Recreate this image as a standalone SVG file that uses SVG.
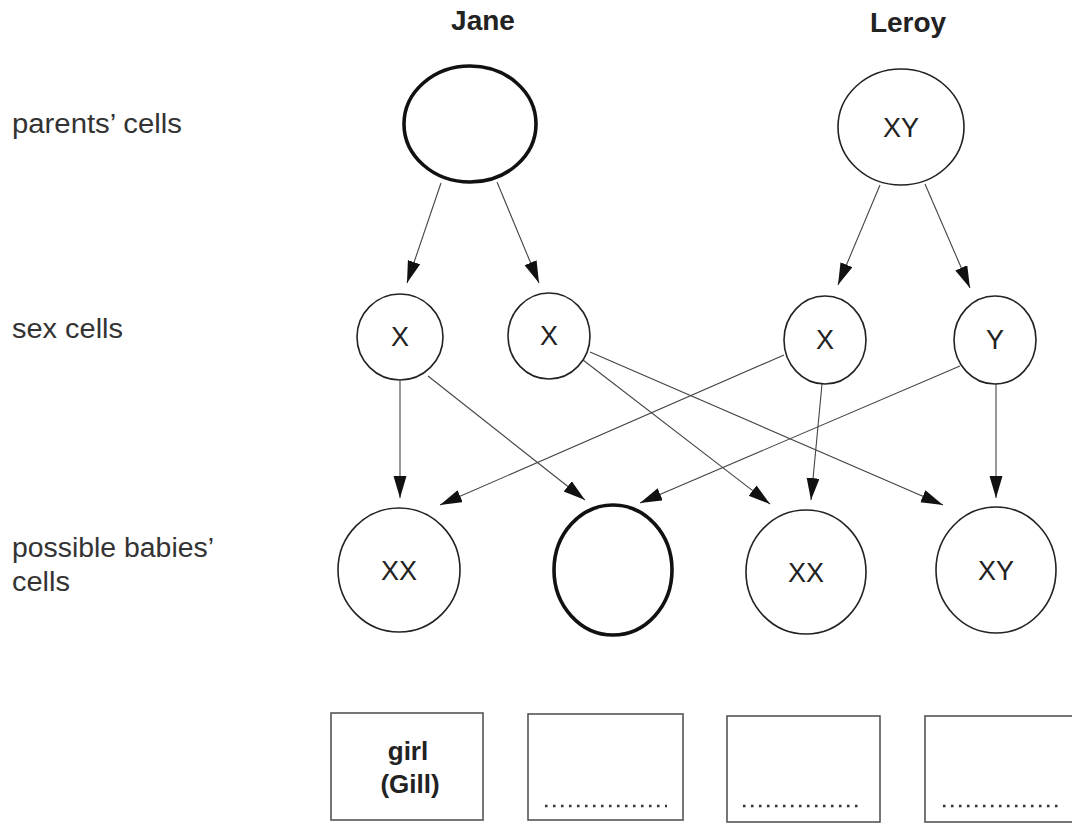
<svg xmlns="http://www.w3.org/2000/svg" width="1072" height="825" viewBox="0 0 1072 825">
<style>
.lbl{font-family:"Liberation Sans",Arial,sans-serif;font-size:27px;fill:#333}
.cl{font-family:"Liberation Sans",Arial,sans-serif;font-size:27px;fill:#222;text-anchor:middle}
.hd{font-family:"Liberation Sans",Arial,sans-serif;font-size:28px;font-weight:bold;fill:#222;text-anchor:middle}
.bt{font-family:"Liberation Sans",Arial,sans-serif;font-size:26px;font-weight:bold;fill:#222;text-anchor:middle}
.c{fill:#fff;stroke:#222;stroke-width:1.6}
.ct{fill:#fff;stroke:#111;stroke-width:3.6}
.bx{fill:#fff;stroke:#555;stroke-width:1.6}
.dot{stroke:#333;stroke-width:2.5;stroke-dasharray:2.5 5.5}
.e{stroke:#444;stroke-width:1.1;fill:none;marker-end:url(#ah)}
</style>
<defs>
<marker id="ah" markerUnits="userSpaceOnUse" markerWidth="24" markerHeight="14" refX="22" refY="6.5" orient="auto">
<path d="M0,0 L22,6.5 L0,13 z" fill="#111"/>
</marker>
</defs>
<rect width="1072" height="825" fill="#fff"/>
<g id="labels">
<text class="lbl" x="12" y="133" textLength="170" lengthAdjust="spacingAndGlyphs">parents’ cells</text>
<text class="lbl" x="12" y="338" textLength="111" lengthAdjust="spacingAndGlyphs">sex cells</text>
<text class="lbl" x="12" y="557" textLength="202" lengthAdjust="spacingAndGlyphs">possible babies’</text>
<text class="lbl" x="12" y="591" textLength="58" lengthAdjust="spacingAndGlyphs">cells</text>
<text class="hd" x="483" y="30">Jane</text>
<text class="hd" x="908" y="32">Leroy</text>
</g>
<g id="connectors">
<line class="e" x1="441" y1="183" x2="407" y2="283"/>
<line class="e" x1="497" y1="182" x2="539" y2="283"/>
<line class="e" x1="880" y1="185" x2="838" y2="285"/>
<line class="e" x1="925" y1="184" x2="970" y2="288"/>
<line class="e" x1="400" y1="381" x2="400" y2="498"/>
<line class="e" x1="428" y1="376" x2="585" y2="500"/>
<line class="e" x1="583" y1="360" x2="770" y2="504"/>
<line class="e" x1="590" y1="352" x2="943" y2="505"/>
<line class="e" x1="784" y1="355" x2="440" y2="505"/>
<line class="e" x1="822" y1="384" x2="811" y2="500"/>
<line class="e" x1="960" y1="366" x2="640" y2="503"/>
<line class="e" x1="996" y1="384" x2="996" y2="498"/>
</g>
<g id="jane"><ellipse class="ct" cx="470" cy="124" rx="66" ry="58"/></g>
<g id="leroy"><ellipse class="c" cx="901" cy="127" rx="63" ry="58"/><text class="cl" x="901" y="137">XY</text></g>
<g id="sex1"><ellipse class="c" cx="400" cy="337" rx="43" ry="43"/><text class="cl" x="400" y="346">X</text></g>
<g id="sex2"><ellipse class="c" cx="549" cy="336" rx="41" ry="43"/><text class="cl" x="549" y="345">X</text></g>
<g id="sex3"><ellipse class="c" cx="825" cy="340" rx="41" ry="44"/><text class="cl" x="825" y="349">X</text></g>
<g id="sex4"><ellipse class="c" cx="995" cy="340" rx="41" ry="44"/><text class="cl" x="995" y="349">Y</text></g>
<g id="baby1"><ellipse class="c" cx="399" cy="570" rx="61" ry="62"/><text class="cl" x="399" y="580">XX</text></g>
<g id="baby2"><ellipse class="ct" cx="613" cy="570" rx="59" ry="65"/></g>
<g id="baby3"><ellipse class="c" cx="806" cy="572" rx="60" ry="62"/><text class="cl" x="806" y="582">XX</text></g>
<g id="baby4"><ellipse class="c" cx="996" cy="570" rx="60" ry="63"/><text class="cl" x="996" y="580">XY</text></g>
<g id="box1"><rect class="bx" x="331" y="713" width="152" height="107"/><text class="bt" x="408" y="760">girl</text><text class="bt" x="410" y="793">(Gill)</text></g>
<g id="box2"><rect class="bx" x="528" y="714" width="155" height="106"/><line class="dot" x1="545" y1="806" x2="667" y2="806"/></g>
<g id="box3"><rect class="bx" x="727" y="716" width="153" height="106"/><line class="dot" x1="743" y1="806" x2="858" y2="806"/></g>
<g id="box4"><rect class="bx" x="925" y="716" width="152" height="106"/><line class="dot" x1="943" y1="806" x2="1060" y2="806"/></g>
</svg>
